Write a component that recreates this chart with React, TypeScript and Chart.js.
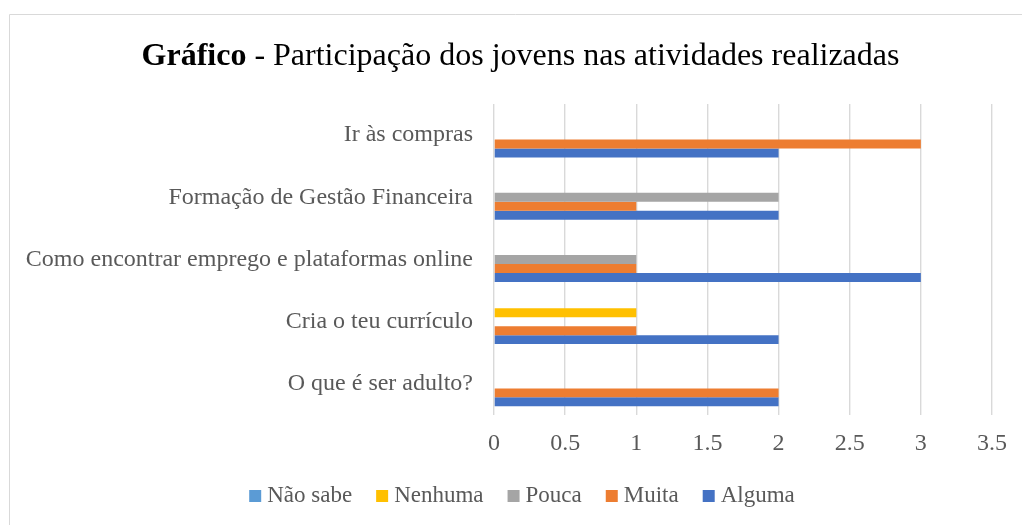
import React, { useEffect, useRef } from "react";
import { Chart, registerables } from "chart.js";

Chart.register(...registerables);

const titleBold = "Gráfico";
const titleRest = " - Participação dos jovens nas atividades realizadas";
const categories = [
  "Ir às compras",
  "Formação de Gestão Financeira",
  "Como encontrar emprego e plataformas online",
  "Cria o teu currículo",
  "O que é ser adulto?",
];
const seriesNames = ["Não sabe", "Nenhuma", "Pouca", "Muita", "Alguma"];
const naoSabe = [0, 0, 0, 0, 0];
const nenhuma = [0, 0, 0, 1, 0];
const pouca = [0, 2, 1, 0, 0];
const muita = [3, 1, 1, 1, 2];
const alguma = [2, 2, 3, 2, 2];
const seriesColors = ["#5B9BD5", "#FFC000", "#A5A5A5", "#ED7D31", "#4472C4"];
const xTickLabels = ["0", "0.5", "1", "1.5", "2", "2.5", "3", "3.5"];

const FONT = "'Liberation Serif', 'Times New Roman', serif";
const TEXT = "#595959";

const framePlugin = {
  id: "frame",
  beforeDraw(chart: any) {
    const ctx = chart.ctx;
    ctx.save();
    ctx.strokeStyle = "#D9D9D9";
    ctx.lineWidth = 1;
    ctx.beginPath();
    ctx.moveTo(9.5, chart.height);
    ctx.lineTo(9.5, 14.5);
    ctx.lineTo(chart.width, 14.5);
    ctx.stroke();
    ctx.restore();
  },
};

const titlePlugin = {
  id: "mixedTitle",
  afterDraw(chart: any) {
    const ctx = chart.ctx;
    ctx.save();
    ctx.fillStyle = "#000000";
    ctx.textBaseline = "alphabetic";
    ctx.font = `bold 32px ${FONT}`;
    const w1 = ctx.measureText(titleBold).width;
    ctx.font = `32px ${FONT}`;
    const w2 = ctx.measureText(titleRest).width;
    const cx = 520.5;
    const x0 = cx - (w1 + w2) / 2;
    ctx.font = `bold 32px ${FONT}`;
    ctx.fillText(titleBold, x0, 65);
    ctx.font = `32px ${FONT}`;
    ctx.fillText(titleRest, x0 + w1, 65);
    ctx.restore();
  },
};

const legendPlugin = {
  id: "customLegend",
  afterDraw(chart: any) {
    const ctx = chart.ctx;
    ctx.save();
    ctx.font = `23px ${FONT}`;
    ctx.textBaseline = "middle";
    const box = 12;
    const gap = 6;
    const spacing = 24;
    const items = chart.data.datasets.map((d: any) => ({
      label: d.label,
      color: d.backgroundColor,
      w: ctx.measureText(d.label).width,
    }));
    const total =
      items.reduce((s: number, it: any) => s + box + gap + it.w, 0) +
      spacing * (items.length - 1);
    let x = 522 - total / 2;
    const cy = 496;
    for (const it of items) {
      ctx.fillStyle = it.color;
      ctx.fillRect(x, cy - box / 2, box, box);
      ctx.fillStyle = TEXT;
      ctx.fillText(it.label, x + box + gap, cy);
      x += box + gap + it.w + spacing;
    }
    ctx.restore();
  },
};

export default function App() {
  const ref = useRef<HTMLCanvasElement | null>(null);
  useEffect(() => {
    if (!ref.current) return;
    const values = [naoSabe, nenhuma, pouca, muita, alguma];
    const chart = new Chart(ref.current, {
      type: "bar",
      data: {
        labels: categories,
        datasets: seriesNames.map((name, i) => ({
          label: name,
          data: values[i],
          backgroundColor: seriesColors[i],
          borderWidth: 0,
          categoryPercentage: 0.72,
          barPercentage: 1.0,
        })),
      },
      options: {
        indexAxis: "y",
        responsive: false,
        animation: false,
        devicePixelRatio: 1,
        layout: { padding: { top: 104, right: 30, left: 0, bottom: 0 } },
        plugins: {
          legend: { display: false },
          title: { display: false },
          tooltip: { enabled: false },
        },
        scales: {
          x: {
            min: 0,
            max: 3.5,
            ticks: {
              stepSize: 0.5,
              padding: 14,
              color: TEXT,
              font: { family: FONT, size: 24 },
              callback: (_v: any, i: number) => xTickLabels[i],
            },
            grid: { color: "#D9D9D9", lineWidth: 1.4, drawTicks: false },
            border: { display: false },
            afterFit: (scale: any) => {
              scale.height = 110;
            },
          },
          y: {
            ticks: {
              padding: 21,
              color: TEXT,
              font: { family: FONT, size: 24 },
            },
            grid: { display: false, drawTicks: false },
            border: { display: false },
            afterFit: (scale: any) => {
              scale.width = 494;
            },
          },
        },
      },
      plugins: [framePlugin, titlePlugin, legendPlugin],
    } as any);
    return () => chart.destroy();
  }, []);
  return (
    <div style={{ position: "absolute", left: 0, top: 0, width: 1022, height: 525, background: "#fff" }}>
      <canvas ref={ref} width={1022} height={525} style={{ display: "block" }} />
    </div>
  );
}
